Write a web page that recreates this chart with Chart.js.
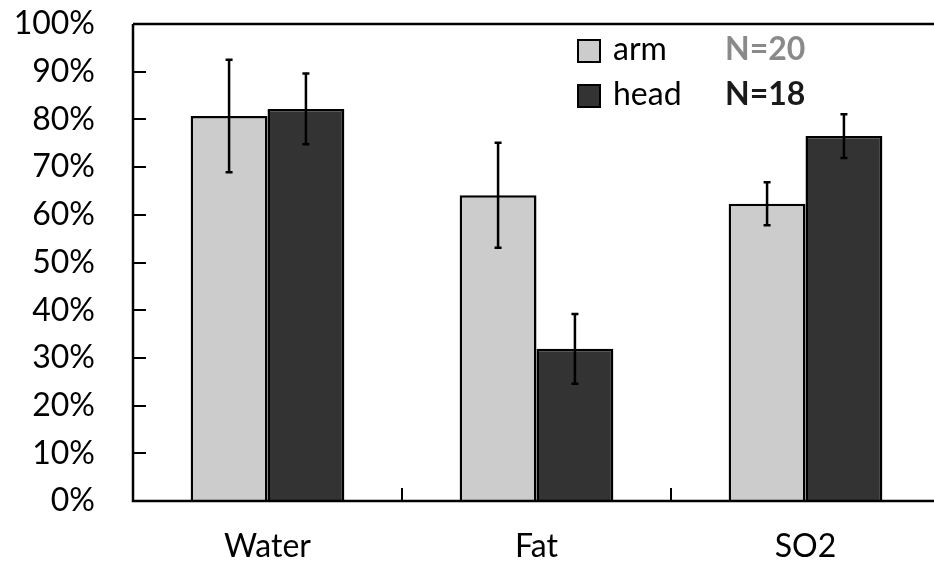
<!DOCTYPE html>
<html>
<head>
<meta charset="utf-8">
<script src="https://cdn.jsdelivr.net/npm/chart.js@4/dist/chart.umd.min.js"></script>
<style>
html,body{margin:0;padding:0;background:#fff;overflow:hidden;}
#wrap{width:950px;height:567px;}
</style>
</head>
<body>
<div id="wrap"><canvas id="c" width="950" height="567"></canvas></div>
<script>
const categories = ['Water', 'Fat', 'SO2'];
const armValues = [80.7, 64.1, 62.3];
const headValues = [82.2, 31.9, 76.5];
const armErrors = [11.8, 11.0, 4.5];
const headErrors = [7.4, 7.3, 4.6];
const seriesLabels = ['arm', 'head'];
const sampleSizes = ['N=20', 'N=18'];
const yTicks = [0, 10, 20, 30, 40, 50, 60, 70, 80, 90, 100];

const FONT = 'Lato, "Open Sans", sans-serif';

const errorBars = {
  id: 'errorBars',
  afterDatasetsDraw(chart) {
    const ctx = chart.ctx;
    const y = chart.scales.y;
    const errs = [armErrors, headErrors];
    chart.data.datasets.forEach((ds, di) => {
      const meta = chart.getDatasetMeta(di);
      meta.data.forEach((bar, i) => {
        const v = ds.data[i];
        const e = errs[di][i];
        const top = y.getPixelForValue(v + e);
        const bot = y.getPixelForValue(v - e);
        ctx.save();
        ctx.strokeStyle = '#000';
        ctx.lineWidth = 2.5;
        ctx.beginPath();
        ctx.moveTo(bar.x, top); ctx.lineTo(bar.x, bot);
        ctx.moveTo(bar.x - 3.5, top); ctx.lineTo(bar.x + 3.5, top);
        ctx.moveTo(bar.x - 3.5, bot); ctx.lineTo(bar.x + 3.5, bot);
        ctx.stroke();
        ctx.restore();
      });
    });
  }
};

const frame = {
  id: 'frame',
  afterDraw(chart) {
    const ctx = chart.ctx;
    const a = chart.chartArea;
    const x = chart.scales.x, y = chart.scales.y;
    ctx.save();
    ctx.strokeStyle = '#000';
    ctx.lineWidth = 2.5;
    ctx.beginPath();
    ctx.moveTo(a.left, a.top); ctx.lineTo(a.right, a.top);
    ctx.lineTo(a.right, a.bottom);
    ctx.lineTo(a.left, a.bottom);
    ctx.lineTo(a.left, a.top);
    ctx.stroke();
    // inward y ticks
    ctx.lineWidth = 2;
    ctx.beginPath();
    yTicks.forEach(t => {
      const py = Math.round(y.getPixelForValue(t));
      ctx.moveTo(a.left, py); ctx.lineTo(a.left + 13, py);
    });
    // inward x category boundary ticks
    for (let i = 1; i < categories.length; i++) {
      const px = (x.getPixelForValue(i - 1) + x.getPixelForValue(i)) / 2;
      ctx.moveTo(px, a.bottom); ctx.lineTo(px, a.bottom - 13);
    }
    ctx.stroke();
    // legend
    const lx = 578, ly = [40, 85];
    chart.data.datasets.forEach((ds, di) => {
      ctx.fillStyle = ds.backgroundColor;
      ctx.strokeStyle = '#000';
      ctx.lineWidth = 2;
      ctx.fillRect(lx, ly[di], 22, 22);
      ctx.strokeRect(lx, ly[di], 22, 22);
      ctx.fillStyle = '#000';
      ctx.font = '32px ' + FONT;
      ctx.textBaseline = 'middle';
      ctx.textAlign = 'left';
      ctx.fillText(ds.label, lx + 35, ly[di] + 10);
      ctx.font = 'bold 32px ' + FONT;
      ctx.fillStyle = di === 0 ? '#8a8a8a' : '#1a1a1a';
      ctx.fillText(sampleSizes[di], 725, ly[di] + 10);
    });
    ctx.restore();
  }
};

new Chart(document.getElementById('c'), {
  type: 'bar',
  data: {
    labels: categories,
    datasets: [
      { label: seriesLabels[0], data: armValues, backgroundColor: '#cccccc', borderColor: '#000', borderWidth: 2.5 },
      { label: seriesLabels[1], data: headValues, backgroundColor: '#333333', borderColor: '#000', borderWidth: 2.5 }
    ]
  },
  options: {
    responsive: false,
    animation: false,
    devicePixelRatio: 1,
    categoryPercentage: 2 / 3.5,
    barPercentage: 1,
    layout: { padding: { top: 24, right: 10, left: 0, bottom: 0 } },
    plugins: { legend: { display: false }, tooltip: { enabled: false } },
    scales: {
      x: {
        grid: { display: false, drawTicks: false },
        border: { display: false },
        ticks: { color: '#000', font: { family: FONT, size: 32 }, padding: 26 },
        afterFit(s) { s.height = 66; s.paddingLeft = 0; s.paddingRight = 0; }
      },
      y: {
        min: 0, max: 100,
        grid: { display: false, drawTicks: false },
        border: { display: false },
        ticks: {
          stepSize: 10, color: '#000', font: { family: FONT, size: 32 }, padding: 38,
          callback: v => v + '%'
        },
        afterFit(s) { s.width = 133; s.paddingTop = 0; s.paddingBottom = 0; }
      }
    }
  },
  plugins: [errorBars, frame]
});
</script>
</body>
</html>
